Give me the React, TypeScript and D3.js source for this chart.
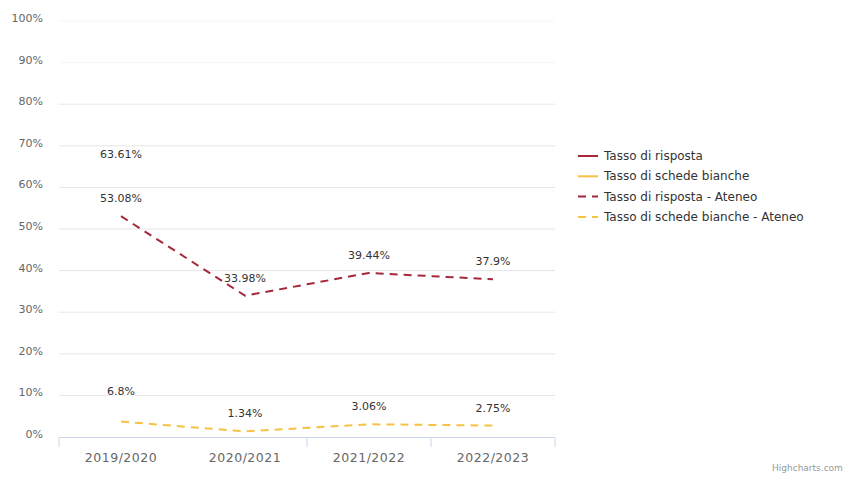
import React from "react";
import * as d3 from "d3";

const categories = ["2019/2020", "2020/2021", "2021/2022", "2022/2023"];
const tassoRisposta: (number | null)[] = [63.61, null, null, null];
const tassoBianche: (number | null)[] = [6.8, null, null, null];
const tassoRispostaAteneo: (number | null)[] = [53.08, 33.98, 39.44, 37.9];
const tassoBiancheAteneo: (number | null)[] = [3.7, 1.34, 3.06, 2.75];
const yTicks = [0, 10, 20, 30, 40, 50, 60, 70, 80, 90, 100];

const RED = "#a5283a";
const YELLOW = "#f6c244";

const series = [
  { name: "Tasso di risposta", data: tassoRisposta, color: RED, dash: false, showLabels: [true, true, true, true] },
  { name: "Tasso di schede bianche", data: tassoBianche, color: YELLOW, dash: false, showLabels: [true, true, true, true] },
  { name: "Tasso di risposta - Ateneo", data: tassoRispostaAteneo, color: RED, dash: true, showLabels: [true, true, true, true] },
  { name: "Tasso di schede bianche - Ateneo", data: tassoBiancheAteneo, color: YELLOW, dash: true, showLabels: [false, true, true, true] },
];

const W = 845;
const H = 481;
const FONT = "'DejaVu Sans', Verdana, sans-serif";

export default function App() {
  const left = 59, right = 555, top = 21, bottom = 437;
  const x = d3.scaleBand<string>().domain(categories).range([left, right]);
  const y = d3.scaleLinear().domain([0, 100]).range([bottom, top]);
  const cx = (c: string) => (x(c) as number) + x.bandwidth() / 2;

  const line = d3
    .line<{ c: string; v: number | null }>()
    .defined((d) => d.v !== null)
    .x((d) => cx(d.c))
    .y((d) => y(d.v as number))
    .curve(d3.curveLinear);

  const boundaries = [left, ...categories.slice(1).map((c) => x(c) as number), right];
  const shownTicks = boundaries.filter((_, i) => i !== 1);

  return (
    <div style={{ position: "fixed", left: 0, top: 0 }}>
      <svg width={W} height={H} style={{ display: "block", background: "#fff" }} fontFamily={FONT}>
        {yTicks.map((t) => (
          <g key={t}>
            {t > 0 && (
              <line
                x1={left}
                x2={right}
                y1={y(t)}
                y2={y(t)}
                stroke={t >= 90 ? "#f6f6f6" : "#e6e6e6"}
                strokeWidth={1}
              />
            )}
            <text x={43} y={y(t) + 1} textAnchor="end" fontSize={11} fill="#666">
              {t}%
            </text>
          </g>
        ))}
        <line x1={left} x2={right} y1={bottom + 0.5} y2={bottom + 0.5} stroke="#ccd6eb" />
        {shownTicks.map((b, i) => (
          <line key={i} x1={b} x2={b} y1={bottom} y2={bottom + 10} stroke="#ccd6eb" />
        ))}
        {categories.map((c) => (
          <text key={c} x={cx(c)} y={bottom + 25} textAnchor="middle" fontSize={12.5} fill="#666" letterSpacing={0.5}>
            {c}
          </text>
        ))}
        {series.map((s) => (
          <path
            key={s.name}
            d={line(categories.map((c, i) => ({ c, v: s.data[i] }))) || ""}
            fill="none"
            stroke={s.color}
            strokeWidth={2}
            strokeLinejoin="round"
            strokeDasharray={s.dash ? "8,6" : undefined}
          />
        ))}
        {series.map((s) =>
          categories.map((c, i) => {
            const v = s.data[i];
            if (v === null || !s.showLabels[i]) return null;
            return (
              <text
                key={s.name + c}
                x={cx(c)}
                y={y(v) - 14}
                textAnchor="middle"
                fontSize={11}
                fill="#333"
                stroke="#fff"
                strokeWidth={2}
                paintOrder="stroke"
              >
                {v}%
              </text>
            );
          })
        )}
        {series.map((s, i) => {
          const ly = 156 + i * 20.3;
          return (
            <g key={s.name}>
              {s.dash ? (
                <line x1={578} x2={598} y1={ly} y2={ly} stroke={s.color} strokeWidth={2} strokeDasharray="8,6" />
              ) : (
                <line x1={578} x2={598} y1={ly} y2={ly} stroke={s.color} strokeWidth={2} />
              )}
              <text x={604} y={ly + 4} fontSize={12} fill="#333">
                {s.name}
              </text>
            </g>
          );
        })}
        <text x={772} y={471} fontSize={9} fill="#999">
          Highcharts.com
        </text>
      </svg>
    </div>
  );
}
